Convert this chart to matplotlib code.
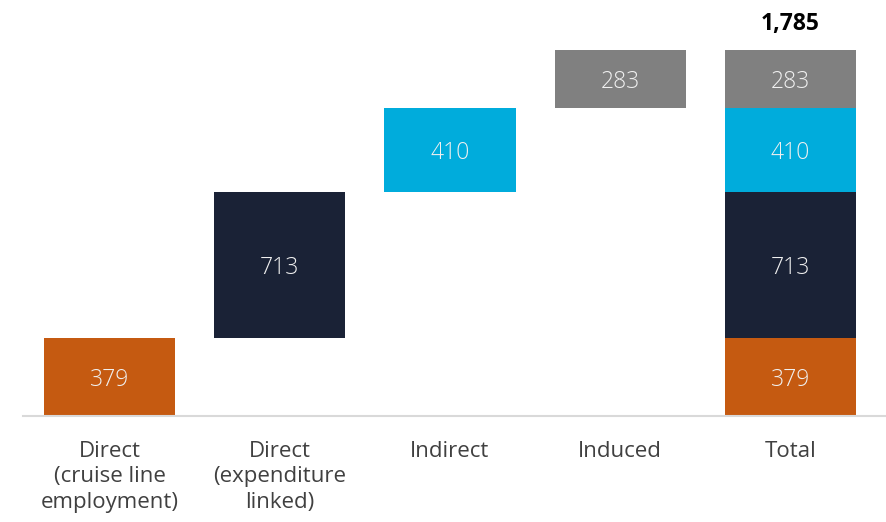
import matplotlib.pyplot as plt
import numpy as np

plt.rcParams['font.family'] = ['Open Sans', 'DejaVu Sans']

# contributions (thousands of jobs) per channel
categories = ['Direct\n(cruise line\nemployment)', 'Direct\n(expenditure\nlinked)', 'Indirect', 'Induced', 'Total']
parts = [379, 713, 410, 283]
colors = ['#C55A11', '#1A2236', '#00ACDC', '#808080']
total_label = '1,785'

fig = plt.figure(figsize=(8.87, 5.22), dpi=100)
ax = fig.add_axes([23 / 887, 1 - 416 / 522, 1 - 23 / 887, 416 / 522])

width = 0.77
bottoms = np.concatenate([[0], np.cumsum(parts)[:-1]])
total = sum(parts)

# floating bars for each step
for i, (v, b, c) in enumerate(zip(parts, bottoms, colors)):
    ax.bar(i, v, bottom=b, width=width, color=c)
    ax.text(i, b + v / 2, str(v), ha='center', va='center_baseline', color='#f0f0f0',
            fontsize=16.5, fontweight='light')

# stacked total bar
n = len(parts)
for v, b, c in zip(parts, bottoms, colors):
    ax.bar(n, v, bottom=b, width=width, color=c)
    ax.text(n, b + v / 2, str(v), ha='center', va='center_baseline', color='#f0f0f0',
            fontsize=16.5, fontweight='light')
ax.text(n, total + 70, total_label, ha='center', va='bottom', fontsize=16.5,
        fontweight='bold', color='black')

ax.set_xlim(-0.508, 4.567)
ax.set_ylim(0, total * 416 / 366)
ax.set_xticks(range(len(categories)))
ax.set_xticklabels(categories, fontsize=16, color='#404040', linespacing=1.28, va='top')
ax.tick_params(axis='x', length=0, pad=18)
ax.set_yticks([])
for s in ['top', 'right', 'left']:
    ax.spines[s].set_visible(False)
ax.spines['bottom'].set_color('#d9d9d9')
ax.spines['bottom'].set_linewidth(1.5)

plt.savefig('out.png', dpi=100)
